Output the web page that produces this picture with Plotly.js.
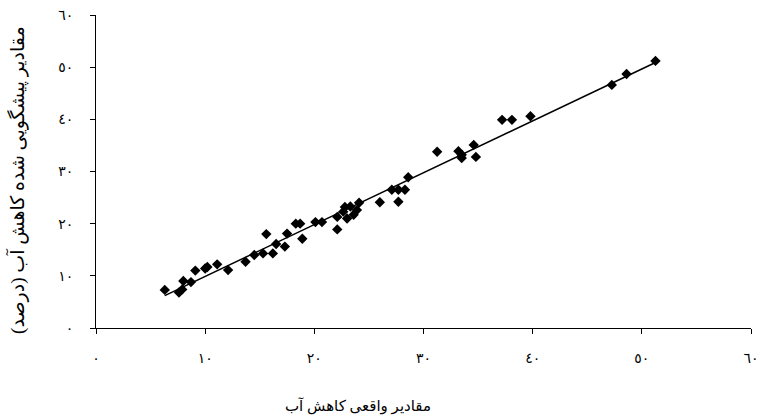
<!DOCTYPE html>
<html>
<head>
<meta charset="utf-8">
<script src="https://cdn.plot.ly/plotly-3.0.1.min.js"></script>
<style>html,body{margin:0;padding:0;background:#fff;}#chart{width:766px;height:419px;}</style>
</head>
<body>
<div id="chart"></div>
<script>
const actualValues = [6.3, 7.6, 7.9, 8.0, 8.7, 9.1, 10.0, 10.2, 11.1, 12.1, 13.7, 14.5, 15.3, 15.6, 16.2, 16.5, 17.3, 17.5, 18.3, 18.7, 18.9, 20.1, 20.7, 22.1, 22.1, 22.65, 22.8, 23.3, 23.0, 23.6, 23.9, 24.1, 26.0, 27.1, 27.7, 27.7, 28.3, 28.6, 31.25, 33.2, 33.5, 33.5, 34.6, 34.8, 37.2, 38.1, 39.8, 47.25, 48.6, 51.25];
const predictedValues = [7.3, 6.8, 7.4, 9.0, 8.8, 11.0, 11.4, 11.7, 12.2, 11.1, 12.7, 14.0, 14.3, 18.0, 14.3, 16.1, 15.6, 18.1, 20.0, 20.0, 17.1, 20.3, 20.3, 21.3, 18.9, 22.3, 23.2, 23.3, 21.0, 21.7, 22.6, 24.0, 24.1, 26.5, 26.5, 24.2, 26.5, 28.9, 33.8, 33.9, 33.2, 32.6, 35.1, 32.8, 39.9, 39.9, 40.6, 46.6, 48.7, 51.2];
const tickValues = [0, 10, 20, 30, 40, 50, 60];
const tickLabels = ['٠', '١٠', '٢٠', '٣٠', '٤٠', '٥٠', '٦٠'];
const xTitle = 'مقادیر واقعی کاهش آب';
const yTitle = 'مقادیر پیشگویی شده کاهش آب (درصد)\u200F';

// Linear trendline (least squares) from the data
const n = actualValues.length;
let sx = 0, sy = 0, sxx = 0, sxy = 0;
for (let i = 0; i < n; i++) { sx += actualValues[i]; sy += predictedValues[i]; sxx += actualValues[i]*actualValues[i]; sxy += actualValues[i]*predictedValues[i]; }
const slope = (n*sxy - sx*sy) / (n*sxx - sx*sx);
const intercept = (sy - slope*sx) / n;
const xMin = Math.min(...actualValues), xMax = Math.max(...actualValues);
const trendX = [xMin, xMax];
const trendY = trendX.map(v => slope*v + intercept);

const fontFam = '"Liberation Serif", "DejaVu Sans", serif';
const data = [
  {x: trendX, y: trendY, mode: 'lines', type: 'scatter', line: {color: '#000', width: 1.5}, hoverinfo: 'skip'},
  {x: actualValues, y: predictedValues, mode: 'markers', type: 'scatter', marker: {symbol: 'diamond', size: 8, color: '#000', line: {width: 0}}}
];
const axisCommon = {
  range: [0, 60], tickmode: 'array', tickvals: tickValues, ticktext: tickLabels,
  showgrid: false, zeroline: false, showline: true, linecolor: '#000', linewidth: 1,
  ticks: 'outside', ticklen: 5, tickcolor: '#000', tickwidth: 1,
  tickfont: {family: fontFam, size: 14, color: '#000'}, fixedrange: true
};
const layout = {
  width: 766, height: 419,
  margin: {l: 96, r: 15, t: 15, b: 91},
  paper_bgcolor: '#fff', plot_bgcolor: '#fff',
  showlegend: false,
  xaxis: Object.assign({}, axisCommon, {ticklabelstandoff: 12}),
  yaxis: Object.assign({}, axisCommon, {ticklabelstandoff: 14}),
  annotations: [
    {text: xTitle, xref: 'paper', yref: 'paper', x: 0.4, y: 0, yshift: -89, xanchor: 'center', yanchor: 'bottom', showarrow: false, font: {family: fontFam, size: 15, color: '#000'}},
    {text: yTitle, xref: 'paper', yref: 'paper', x: 0, y: 0.47, xshift: -79, xanchor: 'center', yanchor: 'middle', textangle: -90, showarrow: false, font: {family: fontFam, size: 19, color: '#000'}}
  ]
};
Plotly.newPlot('chart', data, layout, {displayModeBar: false, staticPlot: true});
</script>
</body>
</html>
